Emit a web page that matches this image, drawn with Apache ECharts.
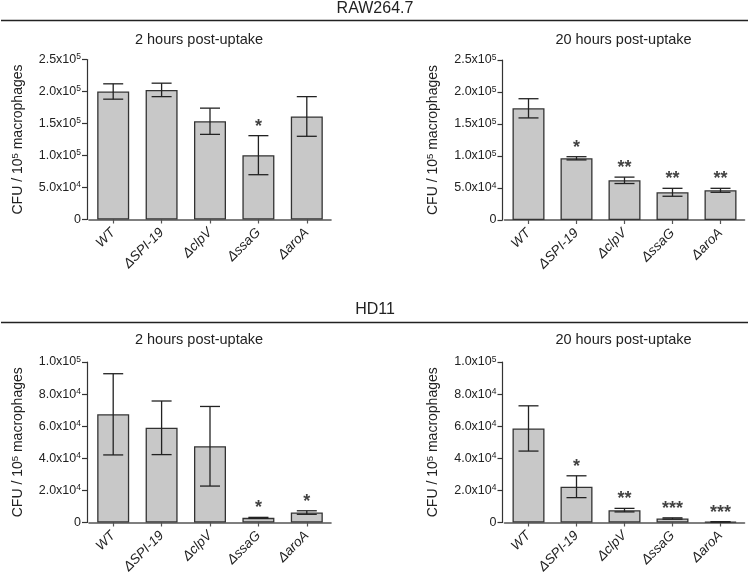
<!DOCTYPE html>
<html><head><meta charset="utf-8">
<script src="https://cdn.jsdelivr.net/npm/echarts@6/dist/echarts.min.js"></script>
<style>html,body{margin:0;padding:0;background:#fff}#c{width:750px;height:583px}</style>
</head><body><div id="c"></div>
<script>
// ---- data ----
const categories = ['WT', 'ΔSPI-19', 'ΔclpV', 'ΔssaG', 'ΔaroA'];
const cellLines = ['RAW264.7', 'HD11'];
const panelTitles = ['2 hours post-uptake', '20 hours post-uptake'];
const yAxisTitle = 'CFU / 10{sup|5} macrophages';

const raw2hMean = [200000, 202500, 153500, 100500, 161000];
const raw2hErr  = [12000, 10500, 20500, 30500, 31000];
const raw2hSig  = ['', '', '', '*', ''];

const raw20hMean = [174500, 96400, 62000, 43300, 46400];
const raw20hErr  = [15000, 2500, 5000, 6200, 3100];
const raw20hSig  = ['', '*', '**', '**', '**'];

const hd2hMean = [67400, 59000, 47500, 2900, 6200];
const hd2hErr  = [25300, 16700, 24800, 300, 1100];
const hd2hSig  = ['', '', '', '*', '*'];

const hd20hMean = [58600, 22300, 7700, 2500, 400];
const hd20hErr  = [14100, 6800, 1100, 400, 100];
const hd20hSig  = ['', '*', '**', '***', '***'];

const rawTickLabels = ['0', '5.0x10{sup|4}', '1.0x10{sup|5}', '1.5x10{sup|5}', '2.0x10{sup|5}', '2.5x10{sup|5}'];
const hdTickLabels  = ['0', '2.0x10{sup|4}', '4.0x10{sup|4}', '6.0x10{sup|4}', '8.0x10{sup|4}', '1.0x10{sup|5}'];
const rawMax = 250000, rawInterval = 50000;
const hdMax = 100000, hdInterval = 20000;

// ---- layout ----
const FONT = '"Liberation Sans", Arial, Helvetica, sans-serif';
const TXT = '#222';
const panels = [
  {mean: raw2hMean, err: raw2hErr, sig: raw2hSig, ticks: rawTickLabels, max: rawMax, interval: rawInterval,
   grid: {left: 89, top: 59.5, width: 242, height: 160}},
  {mean: raw20hMean, err: raw20hErr, sig: raw20hSig, ticks: rawTickLabels, max: rawMax, interval: rawInterval,
   grid: {left: 504.5, top: 60, width: 240, height: 160}},
  {mean: hd2hMean, err: hd2hErr, sig: hd2hSig, ticks: hdTickLabels, max: hdMax, interval: hdInterval,
   grid: {left: 89, top: 362, width: 242, height: 160.5}},
  {mean: hd20hMean, err: hd20hErr, sig: hd20hSig, ticks: hdTickLabels, max: hdMax, interval: hdInterval,
   grid: {left: 504.5, top: 362, width: 240, height: 160.5}}
];

const supRich = {sup: {fontSize: 8.5, lineHeight: 8, verticalAlign: 'top', fontFamily: FONT, color: TXT}};

const grid = [], xAxis = [], yAxis = [], series = [];
panels.forEach((p, k) => {
  grid.push(Object.assign({containLabel: false}, p.grid));
  xAxis.push({
    type: 'category', gridIndex: k, data: categories,
    axisLine: {lineStyle: {color: '#555', width: 1.6}},
    axisTick: {show: true, alignWithLabel: true, length: 4, lineStyle: {color: '#555', width: 1.2}},
    axisLabel: {interval: 0, rotate: 45, fontStyle: 'italic', fontSize: 13.5, fontFamily: FONT, color: TXT, margin: 11}
  });
  yAxis.push({
    type: 'value', gridIndex: k, min: 0, max: p.max, interval: p.interval, offset: 2,
    splitLine: {show: false},
    axisLine: {show: true, lineStyle: {color: '#333', width: 1.2}},
    axisTick: {show: true, length: 5, lineStyle: {color: '#333', width: 1.2}},
    axisLabel: {
      fontSize: 12.5, fontFamily: FONT, color: TXT, margin: 6, lineHeight: 14,
      formatter: (v, i) => p.ticks[i], rich: supRich
    },
    name: yAxisTitle, nameLocation: 'middle', nameGap: 61,
    nameTextStyle: {fontSize: 14, fontFamily: FONT, color: TXT, lineHeight: 16,
      rich: {sup: {fontSize: 9.5, lineHeight: 9.5, verticalAlign: 'top', fontFamily: FONT, color: TXT}}}
  });
  series.push({
    type: 'bar', xAxisIndex: k, yAxisIndex: k, data: p.mean, barWidth: 32,
    itemStyle: {color: '#c8c8c8', borderColor: '#333', borderWidth: 1.3}, z: 2
  });
  series.push({
    type: 'custom', xAxisIndex: k, yAxisIndex: k, z: 3,
    data: p.mean.map((m, i) => [i, m - p.err[i], m + p.err[i]]),
    renderItem: (params, api) => {
      const lo = api.coord([api.value(0), api.value(1)]);
      const hi = api.coord([api.value(0), api.value(2)]);
      const x = lo[0], hw = 10;
      const st = {stroke: '#222', lineWidth: 1.3};
      return {type: 'group', children: [
        {type: 'line', shape: {x1: x, y1: lo[1], x2: x, y2: hi[1]}, style: st},
        {type: 'line', shape: {x1: x - hw, y1: hi[1], x2: x + hw, y2: hi[1]}, style: st},
        {type: 'line', shape: {x1: x - hw, y1: lo[1], x2: x + hw, y2: lo[1]}, style: st}
      ]};
    }
  });
  series.push({
    type: 'scatter', xAxisIndex: k, yAxisIndex: k, symbolSize: 0, z: 4, silent: true,
    data: p.mean.map((m, i) => [i, m + p.err[i]]),
    label: {show: true, position: 'top', distance: 0, fontSize: 18, fontWeight: 'bold', fontFamily: FONT, color: '#111',
      formatter: (d) => p.sig[d.dataIndex]}
  });
});

const headerTexts = [
  {t: cellLines[0], x: 375, y: 9, fs: 16},
  {t: cellLines[1], x: 375, y: 310, fs: 16},
  {t: panelTitles[0], x: 199, y: 39.5, fs: 14.5},
  {t: panelTitles[1], x: 623.5, y: 39.5, fs: 14.5},
  {t: panelTitles[0], x: 199, y: 340, fs: 14.5},
  {t: panelTitles[1], x: 623.5, y: 340, fs: 14.5}
];
const graphic = headerTexts.map(h => ({
  type: 'text', x: h.x, y: h.y, silent: true,
  style: {text: h.t, fontSize: h.fs, fontFamily: FONT, fill: TXT, align: 'center', verticalAlign: 'middle',
          textAlign: 'center', textVerticalAlign: 'middle'}
}));
[20.5, 322.5].forEach(y => graphic.push({
  type: 'line', silent: true, shape: {x1: 1, y1: y, x2: 748, y2: y}, style: {stroke: '#222', lineWidth: 1.4}
}));

const chart = echarts.init(document.getElementById('c'), null, {renderer: 'canvas'});
chart.setOption({animation: false, backgroundColor: '#fff', grid, xAxis, yAxis, series, graphic});
</script></body></html>
